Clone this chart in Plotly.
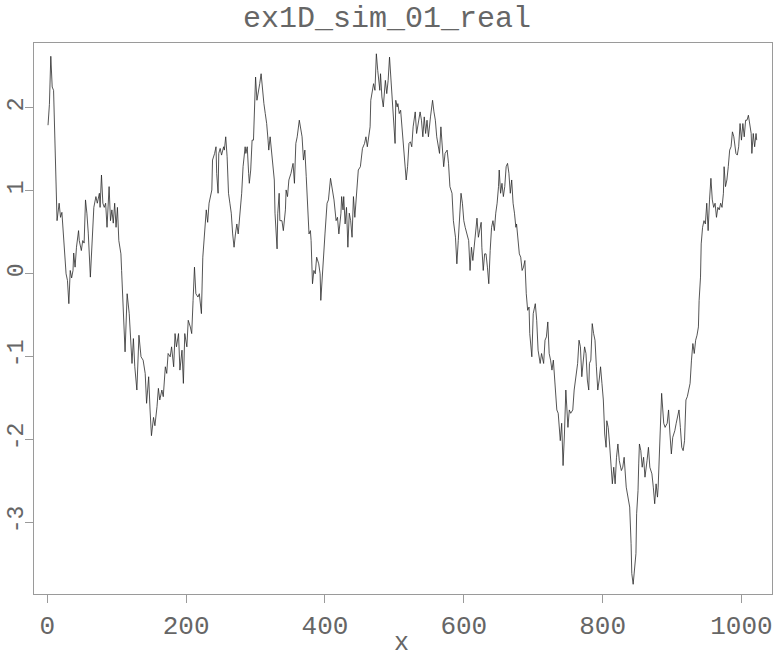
import plotly.graph_objects as go

# Simulated 1D realisation
x_vals = [
    1, 3, 5, 7, 9, 11, 13, 14, 17, 19, 21, 23, 26, 27, 29, 31, 33, 35, 37, 38,
    40, 42, 45, 46, 49, 51, 53, 55, 57, 59, 62, 64, 67, 70, 72, 75, 76, 78, 80, 82,
    84, 86, 88, 89, 91, 93, 95, 97, 99, 101, 103,
    106, 107, 110, 112, 115, 118, 122, 124, 126, 129, 132, 135, 138, 141, 143, 146, 148, 150,
    153, 155, 158, 160, 162, 165, 167, 170, 172, 174,
    177, 179, 182, 184, 186, 189, 191, 194, 196, 198, 201, 203, 206, 208, 210, 212, 214, 217,
    219, 222, 224, 226, 229, 231, 233, 237, 238, 241, 243, 244, 246, 247, 249, 251, 254, 255,
    257, 259, 261, 263, 265, 267, 269, 271, 273, 275, 278, 280, 282, 285, 286, 288, 290, 291,
    293, 295, 297, 299, 300, 302, 304, 306, 308, 310, 312, 314, 316, 318, 319, 321, 323, 325,
    327, 328, 330, 331, 332, 334, 335, 338, 340, 343, 344, 346, 348,
    351, 354, 356, 358, 360, 363, 365, 367, 369, 371, 373, 375, 377, 379, 380, 382, 384, 386,
    388, 391, 393, 394, 396, 398, 400, 403, 405, 408, 410, 413, 416, 418, 420, 423, 424, 426,
    427, 429, 431, 433, 435, 437, 439, 441, 443, 446, 448, 451, 453, 454, 457, 459, 461, 463,
    465, 466, 468, 470, 472, 474, 476, 477, 479, 480, 482, 484, 487, 489, 491, 493, 495, 497,
    499, 501, 502, 504, 505, 507, 509, 511, 513, 515, 517, 519, 521, 523,
    525, 527, 530, 532, 535, 537, 539, 541, 543, 545, 547, 549, 552, 553, 555, 557, 559, 561,
    563, 565, 567, 569, 571, 573, 576, 578, 580, 583, 585, 588, 590, 592, 594, 596, 598, 600,
    602, 604, 607, 609, 611, 613, 615, 617, 619, 621, 623, 625, 626, 628, 630, 632, 634, 636,
    638, 640, 642, 644, 646, 648, 650, 651, 653, 655, 657, 659, 661, 663, 665, 667, 669, 671,
    673, 675, 676, 678, 680, 682, 684, 686, 688, 690, 692, 694, 695,
    698, 700, 703, 705, 707, 710, 712, 715, 717, 719, 721, 723, 725, 727, 729, 731, 734, 736,
    739, 741, 743, 745, 747, 750, 752, 754, 757, 759, 762, 764, 766, 768, 770, 772, 774, 776,
    778, 780, 781, 783, 785, 787, 789, 791, 793, 795, 797, 799, 801, 803, 805, 806, 808, 810,
    812, 814, 816, 818, 820, 822, 824, 827, 829, 831, 834, 836, 839, 841, 842, 844, 846, 848,
    849, 851, 852, 853, 855, 857, 859, 861, 864, 866,
    868, 871, 873, 875, 877, 879, 880, 883, 885, 888, 890, 893, 895, 897, 899, 901, 904, 906,
    908, 910, 912, 914, 916, 918, 920, 922, 924, 926, 928, 930, 932, 934, 936, 938, 939, 941,
    942, 944, 946, 948, 950, 952, 954, 956, 958, 960, 962, 964, 966, 968, 970, 972, 974, 975,
    977, 979, 981, 983, 985, 987, 989, 991, 992, 994, 996, 998, 1000, 1002, 1004, 1006, 1008,
    1010, 1012, 1014, 1015, 1017, 1019, 1021, 1022,
]

y_vals = [
    1.79, 2.04, 2.62, 2.25, 2.21, 1.61, 1.13, 0.64, 0.85, 0.68, 0.74, 0.44, 0.12, 0.00, -0.08, -0.36, 0.04, -0.05, 0.04, 0.25,
    0.08, 0.32, 0.52, 0.40, 0.28, 0.40, 0.37, 0.89, 0.73, 0.49, -0.04, 0.32, 0.80, 0.93, 0.85, 0.97, 0.80, 1.19, 0.85, 0.80,
    0.85, 0.56, 0.89, 1.05, 0.64, 0.77, 0.61, 0.85, 0.56, 0.80, 0.40,
    0.24, 0.04, -0.52, -0.94, -0.24, -0.48, -1.08, -0.78, -1.12, -1.40, -0.74, -1.00, -1.04, -1.20, -1.56, -1.24, -1.64, -1.95,
    -1.73, -1.83, -1.60, -1.38, -1.52, -1.40, -1.48, -1.12, -1.20, -0.96,
    -1.00, -0.88, -1.12, -0.72, -0.88, -0.72, -1.16, -0.92, -1.32, -0.72, -0.88, -0.56, -0.64, -0.72, -0.32, 0.08, -0.24, -0.28,
    -0.24, -0.48, 0.20, 0.40, 0.77, 0.62, 0.85, 1.01, 1.37, 1.45, 1.53, 1.21, 0.97, 1.45, 1.51, 1.43, 1.53, 1.49,
    1.65, 1.41, 0.97, 0.85, 0.73, 0.48, 0.32, 0.48, 0.60, 0.48, 0.77, 0.97, 1.29, 1.53, 1.45, 1.53, 1.21, 1.09,
    1.25, 1.61, 1.61, 2.33, 2.37, 2.09, 2.17, 2.29, 2.41, 2.21, 2.05, 1.93, 1.81, 1.61, 1.49, 1.65, 1.45, 1.29,
    1.13, 0.73, 0.48, 0.30, 0.73, 0.97, 0.64, 0.64, 0.52, 0.77, 1.01, 0.93, 1.13,
    1.21, 1.33, 1.09, 1.57, 1.65, 1.85, 1.73, 1.65, 1.37, 1.49, 1.17, 0.80, 0.48, 0.52, 0.40, -0.12, 0.04, 0.00,
    0.20, 0.12, 0.00, -0.32, 0.00, 0.32, 0.48, 0.85, 0.89, 1.15, 1.05, 0.89, 0.64, 0.68, 0.48, 0.73, 0.93, 0.77,
    0.93, 0.60, 0.80, 0.32, 0.73, 0.64, 0.44, 0.93, 0.68, 1.09, 1.25, 1.29, 1.45, 1.51, 1.57, 1.65, 1.53, 1.69,
    1.77, 2.09, 2.21, 2.29, 2.21, 2.65, 2.45, 2.37, 2.21, 2.41, 2.13, 2.01, 2.33, 2.17, 2.33, 2.61, 2.37, 2.13,
    1.81, 1.57, 2.09, 2.01, 2.05, 1.93, 1.97, 1.77, 1.53, 1.37, 1.13, 1.29, 1.57, 1.59,
    1.53, 1.77, 1.95, 1.69, 1.85, 1.95, 1.85, 1.65, 1.89, 1.69, 1.85, 1.65, 1.89, 1.97, 2.09, 1.95, 1.85, 1.65,
    1.53, 1.45, 1.77, 1.49, 1.29, 1.45, 1.49, 1.33, 1.05, 0.97, 0.64, 0.44, 0.12, 0.40, 0.73, 0.97, 0.85, 0.64,
    0.56, 0.48, 0.40, 0.04, 0.32, 0.16, 0.36, 0.48, 0.67, 0.44, 0.52, 0.62, 0.32, 0.04, 0.24, 0.24, 0.08, -0.12,
    0.28, 0.56, 0.64, 0.52, 0.73, 0.85, 1.05, 1.25, 0.97, 1.09, 0.93, 1.05, 1.29, 1.33, 1.21, 0.97, 1.13, 0.85,
    0.73, 0.56, 0.60, 0.44, 0.24, 0.20, 0.04, 0.08, 0.16, -0.24, -0.44, -0.40, -0.72,
    -1.00, -0.48, -0.36, -0.56, -0.92, -1.08, -0.96, -1.08, -0.80, -0.76, -0.58, -0.96, -1.04, -1.16, -1.04, -1.28, -1.64, -1.68,
    -2.01, -1.80, -2.31, -1.93, -1.40, -1.85, -1.64, -1.68, -1.64, -1.40, -1.16, -1.08, -0.80, -0.88, -1.24, -1.04, -0.88, -0.96,
    -1.28, -1.40, -1.08, -1.04, -0.60, -0.72, -0.80, -1.12, -1.40, -1.28, -1.12, -1.32, -1.52, -1.93, -2.09, -1.77, -1.85, -2.05,
    -2.33, -2.53, -2.33, -2.53, -2.21, -2.05, -2.25, -2.37, -2.33, -2.21, -2.57, -2.65, -2.81, -3.25, -3.61, -3.74, -3.57, -3.37,
    -2.89, -2.61, -2.29, -2.05, -2.13, -2.33, -2.21, -2.45, -2.25, -2.09,
    -2.33, -2.41, -2.57, -2.77, -2.53, -2.69, -2.57, -1.93, -1.44, -1.80, -1.85, -1.80, -1.64, -1.93, -2.17, -1.97, -1.89, -1.80,
    -1.73, -1.64, -1.85, -2.09, -2.13, -2.01, -1.52, -1.48, -1.40, -1.32, -1.04, -0.84, -0.96, -0.80, -0.74, -0.64, -0.32, -0.04,
    0.36, 0.56, 0.64, 0.60, 0.85, 0.52, 0.89, 1.15, 0.89, 0.80, 0.85, 0.68, 0.80, 0.77, 0.85, 0.80, 0.97, 1.29,
    1.05, 1.13, 1.29, 1.49, 1.53, 1.71, 1.65, 1.53, 1.45, 1.43, 1.53, 1.81, 1.61, 1.81, 1.65, 1.85, 1.85,
    1.91, 1.77, 1.69, 1.45, 1.69, 1.53, 1.69, 1.61,
]

x_ticks = [0, 200, 400, 600, 800, 1000]
y_ticks = [-3, -2, -1, 0, 1, 2]
title_text = "ex1D_sim_01_real"
x_label = "x"

FONT = "Liberation Mono, DejaVu Sans Mono, monospace"
GREY = "#666666"
AXIS_GREY = "#9a9a9a"

fig = go.Figure()
fig.add_trace(go.Scatter(
    x=x_vals, y=y_vals, mode="lines",
    line=dict(color="#2a2a2a", width=0.8),
    hoverinfo="skip", showlegend=False,
))

fig.update_layout(
    width=774, height=661,
    margin=dict(l=34, r=2, t=43, b=67),
    paper_bgcolor="white", plot_bgcolor="white",
    title=dict(text=title_text, x=0.5, xref="container", xanchor="center",
               y=1 - 16 / 661, yref="container", yanchor="middle",
               font=dict(family=FONT, size=30, color=GREY)),
    font=dict(family=FONT, color=GREY),
    annotations=[dict(text=x_label, xref="paper", yref="paper",
                      x=(401 - 34) / 738, y=-(660 - 594) / 551,
                      xanchor="center", yanchor="bottom", showarrow=False,
                      font=dict(family=FONT, size=25, color=GREY))],
)

fig.update_xaxes(
    range=[-19.2, 1044], tickmode="array", tickvals=x_ticks,
    ticktext=[str(v) for v in x_ticks], automargin=False,
    showline=True, mirror=True, linecolor=AXIS_GREY, linewidth=1,
    ticks="outside", ticklen=8, tickcolor=AXIS_GREY, tickwidth=1,
    showgrid=False, zeroline=False,
    tickfont=dict(family=FONT, size=26, color=GREY),
)
fig.update_yaxes(
    range=[-3.857, 2.78], tickmode="array", tickvals=y_ticks,
    ticktext=[str(v) for v in y_ticks], automargin=False,
    showline=True, mirror=True, linecolor=AXIS_GREY, linewidth=1,
    ticks="outside", ticklen=8, tickcolor=AXIS_GREY, tickwidth=1,
    showgrid=False, zeroline=False, tickangle=-90,
    ticklabelstandoff=-7,
    tickfont=dict(family=FONT, size=23, color=GREY),
)

fig.write_html(
    "out.html",
    config={"displayModeBar": False},
    post_script="document.body.style.margin='0';document.body.style.overflow='hidden';",
)
